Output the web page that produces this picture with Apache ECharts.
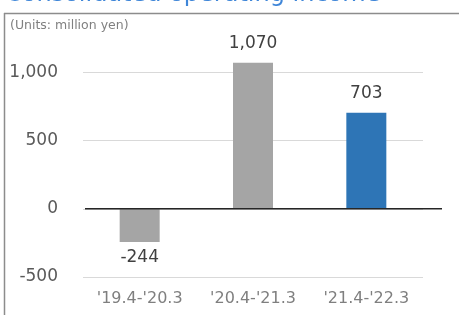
<!DOCTYPE html>
<html><head><meta charset="utf-8">
<script src="https://cdn.jsdelivr.net/npm/echarts@6/dist/echarts.min.js"></script>
<style>html,body{margin:0;padding:0;background:#fff}#c{width:459px;height:315px}</style>
</head><body><div id="c"></div>
<script>
var categories = ["'19.4-'20.3", "'20.4-'21.3", "'21.4-'22.3"];
var values = [-244, 1070, 703];
var barColors = ['#a5a5a5', '#a5a5a5', '#2e75b6'];
var yTicks = { min: -500, max: 1500, interval: 500 };
var unitText = '(Units: million yen)';
var titleText = 'Consolidated operating income';

var font = 'DejaVu Sans';
var chart = echarts.init(document.getElementById('c'), null, { renderer: 'canvas' });
chart.setOption({
  animation: false,
  backgroundColor: '#fff',
  grid: { left: 83, right: 36, top: 4, bottom: 38, containLabel: false },
  xAxis: {
    type: 'category', data: categories,
    axisLine: { show: false }, axisTick: { show: false },
    axisLabel: { color: '#7f7f7f', fontFamily: font, fontSize: 16, margin: 14 }
  },
  yAxis: {
    type: 'value', min: yTicks.min, max: yTicks.max, interval: yTicks.interval,
    axisLine: { show: false }, axisTick: { show: false },
    axisLabel: { color: '#595959', fontFamily: font, fontSize: 17, margin: 25, showMaxLabel: false,
      formatter: function (v) { return v === yTicks.max ? '' : v.toLocaleString('en-US'); } },
    splitLine: { show: true, showMaxLine: false, lineStyle: { color: '#d9d9d9', width: 1 } }
  },
  series: [{
    type: 'bar', barWidth: 40,
    data: values.map(function (v, i) {
      return { value: v, itemStyle: { color: barColors[i] }, label: { distance: v < 0 ? 7 : 11 } };
    }),
    label: { show: true, position: 'outside', distance: 11, color: '#404040', fontFamily: font, fontSize: 17,
      formatter: function (p) { return p.value.toLocaleString('en-US'); } }
  }]
});
var y0 = chart.convertToPixel({ yAxisIndex: 0 }, 0);
chart.setOption({
  graphic: [
    { type: 'line', shape: { x1: 85, y1: y0, x2: 442, y2: y0 }, style: { stroke: '#262626', lineWidth: 1.5 }, z: 10 },
    { type: 'line', shape: { x1: 4, y1: 13.5, x2: 459, y2: 13.5 }, style: { stroke: '#8c8c8c', lineWidth: 1.5 } },
    { type: 'line', shape: { x1: 4.5, y1: 13, x2: 4.5, y2: 315 }, style: { stroke: '#8c8c8c', lineWidth: 1.5 } },
    { type: 'text', x: 10, y: 19, style: { text: unitText, fill: '#808080', font: '12.5px "DejaVu Sans"' } },
    { type: 'text', x: 5, y: 6.5, style: { text: titleText, fill: '#3f86d8', font: '24px "DejaVu Sans"', verticalAlign: 'bottom' } }
  ]
});
</script></body></html>
